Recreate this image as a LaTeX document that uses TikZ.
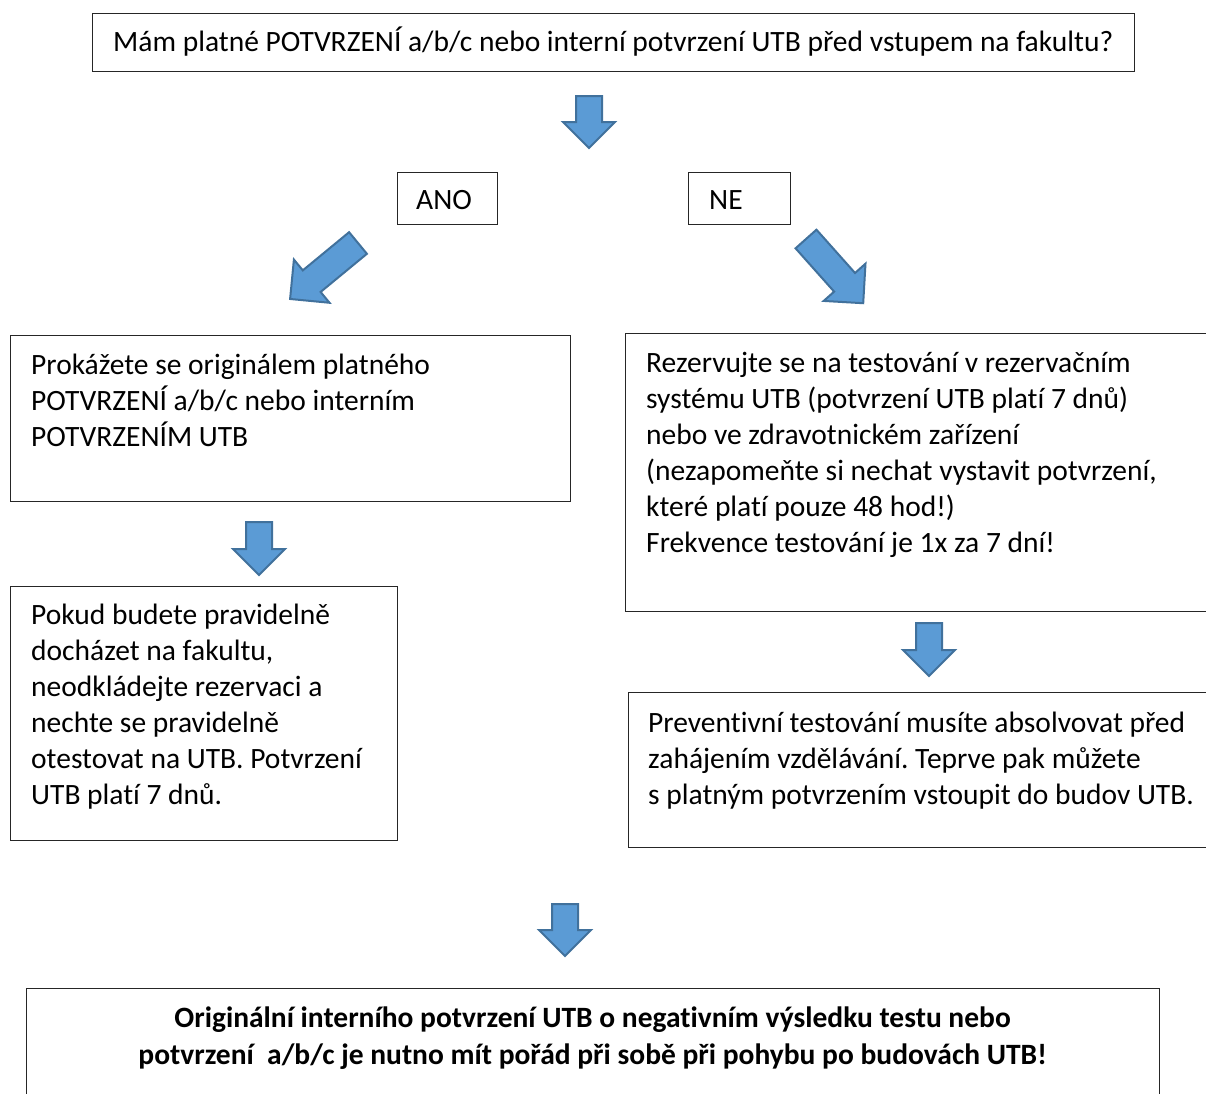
\documentclass[tikz,border=0pt]{standalone}
\usepackage{fontspec}
\setmainfont{Carlito}[Ligatures=NoCommon]
\definecolor{arrowfill}{HTML}{5B9BD5}
\definecolor{arrowdraw}{HTML}{41719C}
\newcommand{\tstrut}{\vrule width 0pt height 27pt\relax}
\newcommand{\blkarrow}[5]{%
  \begin{scope}[shift={(#1,#2)}, rotate=#3]
    \filldraw[barrow] (0,{#5/2}) -- ({#4-#5},{#5/2}) -- ({#4-#5},#5) -- (#4,0)
      -- ({#4-#5},{-#5}) -- ({#4-#5},{-#5/2}) -- (0,{-#5/2}) -- cycle;
  \end{scope}}
\begin{document}
\frenchspacing
\begin{tikzpicture}[x=1pt,y=-1pt,
  box/.style={draw=black!85, line width=1.1pt, inner sep=0pt, anchor=north west},
  txt/.style={inner sep=0pt, anchor=north west, align=left, font=\frenchspacing\fontsize{29.5}{36}\selectfont},
  one/.style={inner sep=0pt, anchor=base west, font=\frenchspacing\fontsize{29.5}{36}\selectfont},
  barrow/.style={fill=arrowfill, draw=arrowdraw, line width=2pt, line join=miter}]
\useasboundingbox[fill=white] (0,0) rectangle (1206,1093);

% boxes
\node[box, minimum width=1042, minimum height=58] (topbox) at (92,13) {};
\node[box, minimum width=100, minimum height=52] (anobox) at (397,172) {};
\node[box, minimum width=102, minimum height=52] (nebox) at (688,172) {};
\node[box, minimum width=560, minimum height=166] (lbox1) at (10,335) {};
\node[box, minimum width=387, minimum height=254] (lbox2) at (10,586) {};
\node[box, minimum width=600, minimum height=278] (rbox1) at (625,333) {};
\node[box, minimum width=600, minimum height=155] (rbox2) at (628,692) {};
\node[box, minimum width=1133, minimum height=140] (botbox) at (26,988) {};

% texts
\node[one] (toptxt) at (113,51) {Mám platné POTVRZENÍ a/b/c nebo interní potvrzení UTB před vstupem na fakultu?};
\node[one] (anotxt) at (416,209) {ANO};
\node[one] (netxt) at (709,209) {NE};
\node[txt] (l1txt) at (31,347) {\tstrut Prokážete se originálem platného\\POTVRZENÍ a/b/c nebo interním\\POTVRZENÍM UTB};
\node[txt] (l2txt) at (31,597) {\tstrut Pokud budete pravidelně\\docházet na fakultu,\\neodkládejte rezervaci a\\nechte se pravidelně\\otestovat na UTB. Potvrzení\\UTB platí 7 dnů.};
\node[txt] (r1txt) at (646,345) {\tstrut Rezervujte se na testování v rezervačním\\systému UTB (potvrzení UTB platí 7 dnů)\\nebo ve zdravotnickém zařízení\\(nezapomeňte si nechat vystavit potvrzení,\\které platí pouze 48 hod!)\\Frekvence testování je 1x za 7 dní!};
\node[txt] (r2txt) at (648,705) {\tstrut Preventivní testování musíte absolvovat před\\zahájením vzdělávání. Teprve pak můžete\\s platným potvrzením vstoupit do budov UTB.};
\node[inner sep=0pt, anchor=north, align=center, font=\frenchspacing\fontsize{29.5}{37}\selectfont\bfseries] (bottxt) at (592.5,1000)
  {\tstrut Originální interního potvrzení UTB o negativním výsledku testu nebo\\potvrzení~ a/b/c je nutno mít pořád při sobě při pohybu po budovách UTB!};

% block arrows
\blkarrow{589}{96}{-90}{52}{26}
\blkarrow{358}{243}{219.5}{88}{28}
\blkarrow{806}{239}{-48.3}{86}{28}
\blkarrow{259}{522}{-90}{53}{26}
\blkarrow{929}{623}{-90}{53}{26}
\blkarrow{565}{904}{-90}{52}{26}
\end{tikzpicture}
\end{document}
